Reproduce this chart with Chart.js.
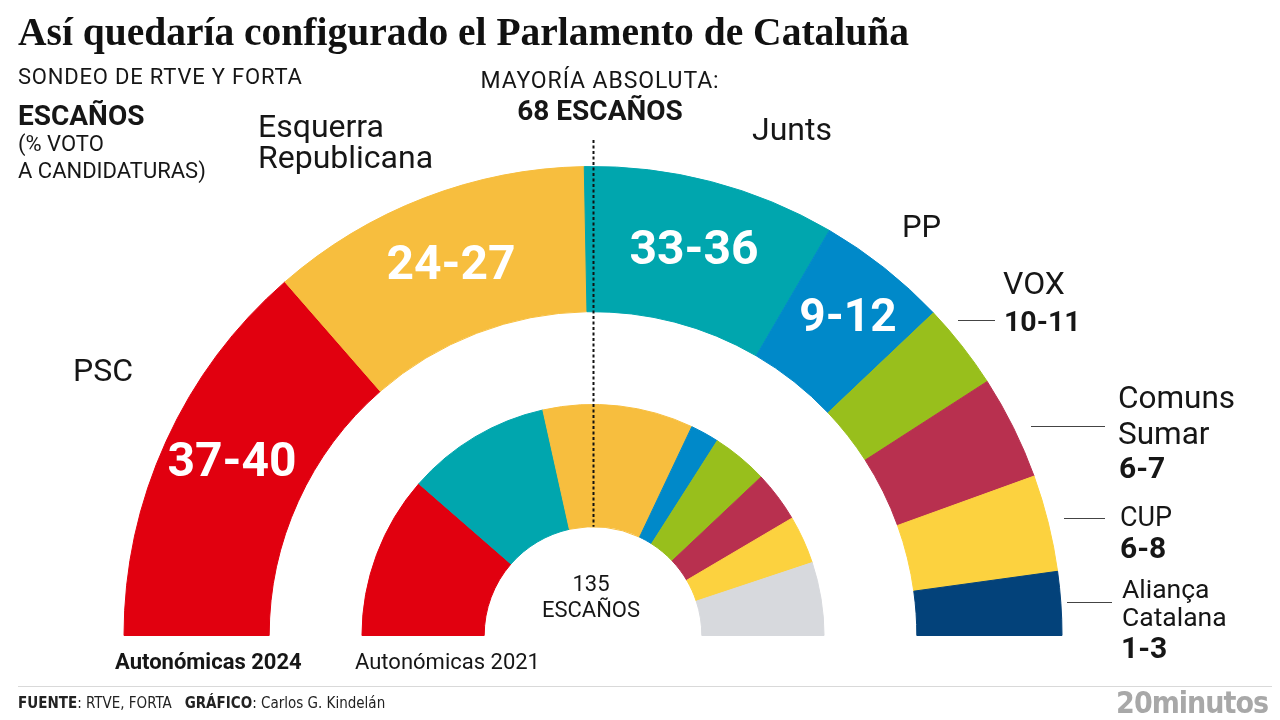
<!DOCTYPE html>
<html lang="es">
<head>
<meta charset="utf-8">
<title>Así quedaría configurado el Parlamento de Cataluña</title>
<script src="https://cdn.jsdelivr.net/npm/chart.js@4.4.1/dist/chart.umd.min.js"></script>
<style>
  html, body { margin: 0; padding: 0; background: #fff; }
  #stage {
    position: relative; width: 1280px; height: 720px; overflow: hidden;
    font-family: Roboto, "Noto Sans", sans-serif; color: #161616;
  }
  #stage canvas { position: absolute; left: 0; top: 0; }
  .t { position: absolute; white-space: nowrap; line-height: 1; }
  .lead { position: absolute; height: 0; border-top: 1.5px solid #444; }
  .rule { position: absolute; left: 18px; width: 1254px; top: 686px; border-top: 1px solid #d9d9d9; }
</style>
</head>
<body>
<div id="stage">
  <canvas id="parliament" width="1280" height="720"></canvas>
  <div class="rule"></div>
</div>
<script>
// --- data ---
const parties2024 = ['PSC', 'Esquerra Republicana', 'Junts', 'PP', 'VOX', 'Comuns Sumar', 'CUP', 'Aliança Catalana'];
const seatRanges2024 = ['37-40', '24-27', '33-36', '9-12', '10-11', '6-7', '6-8', '1-3'];
// slice widths as drawn in the graphic (in seats out of 135)
const arcs2024 = [36.7, 30.0, 23.5, 12.2, 8.0, 9.7, 9.0, 5.9];

const parties2021 = ['PSC', 'Junts', 'ERC', 'PP', 'VOX', 'Comuns', 'CUP', 'Cs'];
const arcs2021 = [30.8, 27.3, 28.4, 5.4, 10.6, 9.6, 9.1, 13.8];

const totalSeats = 135;
const majoritySeats = 68;

// colours
const colors2024 = ['#e1000f', '#f7be3e', '#00a6ae', '#0089c9', '#98bf1c', '#b8304f', '#fcd23f', '#03427a'];
const colors2021 = ['#e1000f', '#00a6ae', '#f7be3e', '#0089c9', '#98bf1c', '#b8304f', '#fcd23f', '#d7d9dd'];

const stage = document.getElementById('stage');

// text placed by its baseline (line-height 1 => baseline ~0.84em below top)
function addText(str, x, baseline, size, opts = {}) {
    const el = document.createElement('div');
    el.className = 't';
    el.textContent = str;
    el.style.fontSize = size + 'px';
    el.style.top = (baseline - size * 0.84) + 'px';
    if (opts.bold) el.style.fontWeight = '700';
    if (opts.color) el.style.color = opts.color;
    if (opts.family) el.style.fontFamily = opts.family;
    if (opts.spacing) el.style.letterSpacing = opts.spacing + 'px';
    if (opts.align === 'center') {
        el.style.left = x + 'px';
        el.style.transform = 'translateX(-50%)';
    } else if (opts.align === 'right') {
        el.style.right = (1280 - x) + 'px';
    } else {
        el.style.left = x + 'px';
    }
    stage.appendChild(el);
    return el;
}

function addLead(x1, x2, y) {
    const el = document.createElement('div');
    el.className = 'lead';
    el.style.left = x1 + 'px';
    el.style.width = (x2 - x1) + 'px';
    el.style.top = y + 'px';
    stage.appendChild(el);
}

// dotted majority line down the middle of the hemicycle
const majorityLine = {
    id: 'majorityLine',
    afterDatasetsDraw(chart) {
        const first = chart.getDatasetMeta(0).data[0];
        const inner = chart.getDatasetMeta(2).data[0];
        const {ctx} = chart;
        const cx = Math.round(first.x) + 0.5;
        ctx.save();
        ctx.strokeStyle = '#111';
        ctx.lineWidth = 2;
        ctx.setLineDash([3, 2.5]);
        ctx.beginPath();
        ctx.moveTo(cx, 140);
        ctx.lineTo(cx, first.y - inner.innerRadius);
        ctx.stroke();
        ctx.restore();
    }
};

new Chart(document.getElementById('parliament'), {
    type: 'doughnut',
    data: {
        labels: parties2024,
        datasets: [
            {
                label: 'Autonómicas 2024',
                data: arcs2024,
                backgroundColor: colors2024,
                borderColor: colors2024,
                borderWidth: 1,
                weight: 145.5
            },
            {
                label: 'gap',
                data: [totalSeats],
                backgroundColor: 'rgba(0,0,0,0)',
                borderWidth: 0,
                weight: 93
            },
            {
                label: 'Autonómicas 2021',
                data: arcs2021,
                backgroundColor: colors2021,
                borderColor: colors2021,
                borderWidth: 1,
                weight: 122.5
            }
        ]
    },
    options: {
        responsive: false,
        animation: false,
        events: [],
        rotation: -90,
        circumference: 180,
        cutout: '23.2%',
        layout: { padding: { left: 123, right: 217, top: 166, bottom: 84 } },
        plugins: {
            legend: { display: false },
            tooltip: { enabled: false }
        }
    },
    plugins: [majorityLine]
});

// header
addText('Así quedaría configurado el Parlamento de Cataluña', 18, 46, 39.5,
    { bold: true, family: '"Liberation Serif", "DejaVu Serif", serif', color: '#111' });
addText('SONDEO DE RTVE Y FORTA', 18, 84, 22, { spacing: 0.8 });
addText('ESCAÑOS', 18, 126, 28, { bold: true });
addText('(% VOTO', 18, 151, 22);
addText('A CANDIDATURAS)', 18, 178, 22);
addText('MAYORÍA ABSOLUTA:', 600, 88, 23, { align: 'center', spacing: 0.9 });
addText(majoritySeats + ' ESCAÑOS', 600, 121, 28, { bold: true, align: 'center' });

// party names around the outer ring
addText('Esquerra', 258, 137, 32);
addText('Republicana', 258, 168, 32);
addText('PSC', 73, 381, 32);
addText('Junts', 752, 140, 32);
addText('PP', 902, 237, 31);
addText('VOX', 1003, 294, 32);
addText(seatRanges2024[4], 1004, 332, 28.5, { bold: true });
addText('Comuns', 1118, 408, 31.5);
addText('Sumar', 1118, 444, 31.5);
addText(seatRanges2024[5], 1119, 478, 30, { bold: true });
addText('CUP', 1120, 527, 27);
addText(seatRanges2024[6], 1120, 558, 30, { bold: true });
addText('Aliança', 1122, 598, 26.5);
addText('Catalana', 1122, 626, 26.5);
addText(seatRanges2024[7], 1121, 658, 30, { bold: true });

addLead(958, 995, 320);
addLead(1031, 1105, 426);
addLead(1064, 1105, 518);
addLead(1067, 1112, 602);

// ranges inside the big slices
addText(seatRanges2024[0], 232, 476, 48, { bold: true, color: '#fff', align: 'center' });
addText(seatRanges2024[1], 451, 279, 48, { bold: true, color: '#fff', align: 'center' });
addText(seatRanges2024[2], 694, 264, 48, { bold: true, color: '#fff', align: 'center' });
addText(seatRanges2024[3], 848, 331, 46, { bold: true, color: '#fff', align: 'center' });

// centre of the inner ring
addText(String(totalSeats), 591, 591, 22, { align: 'center' });
addText('ESCAÑOS', 591, 617, 22, { align: 'center' });

// ring captions
addText('Autonómicas 2024', 115, 669, 22, { bold: true });
addText('Autonómicas 2021', 355, 669, 22);

// footer
const foot = addText('', 18, 709, 15, { family: '"Liberation Sans Narrow", "DejaVu Sans Condensed", sans-serif', color: '#222' });
foot.innerHTML = '<b>FUENTE</b>: RTVE, FORTA &nbsp;&nbsp;<b>GRÁFICO</b>: Carlos G. Kindelán';
const logo = addText('20minutos', 1268, 713, 30, { align: 'right', color: '#a8a8a8', spacing: -1,
    family: '"DejaVu Sans Condensed", "Liberation Sans Narrow", sans-serif' });
logo.style.fontWeight = '600';
</script>
</body>
</html>
